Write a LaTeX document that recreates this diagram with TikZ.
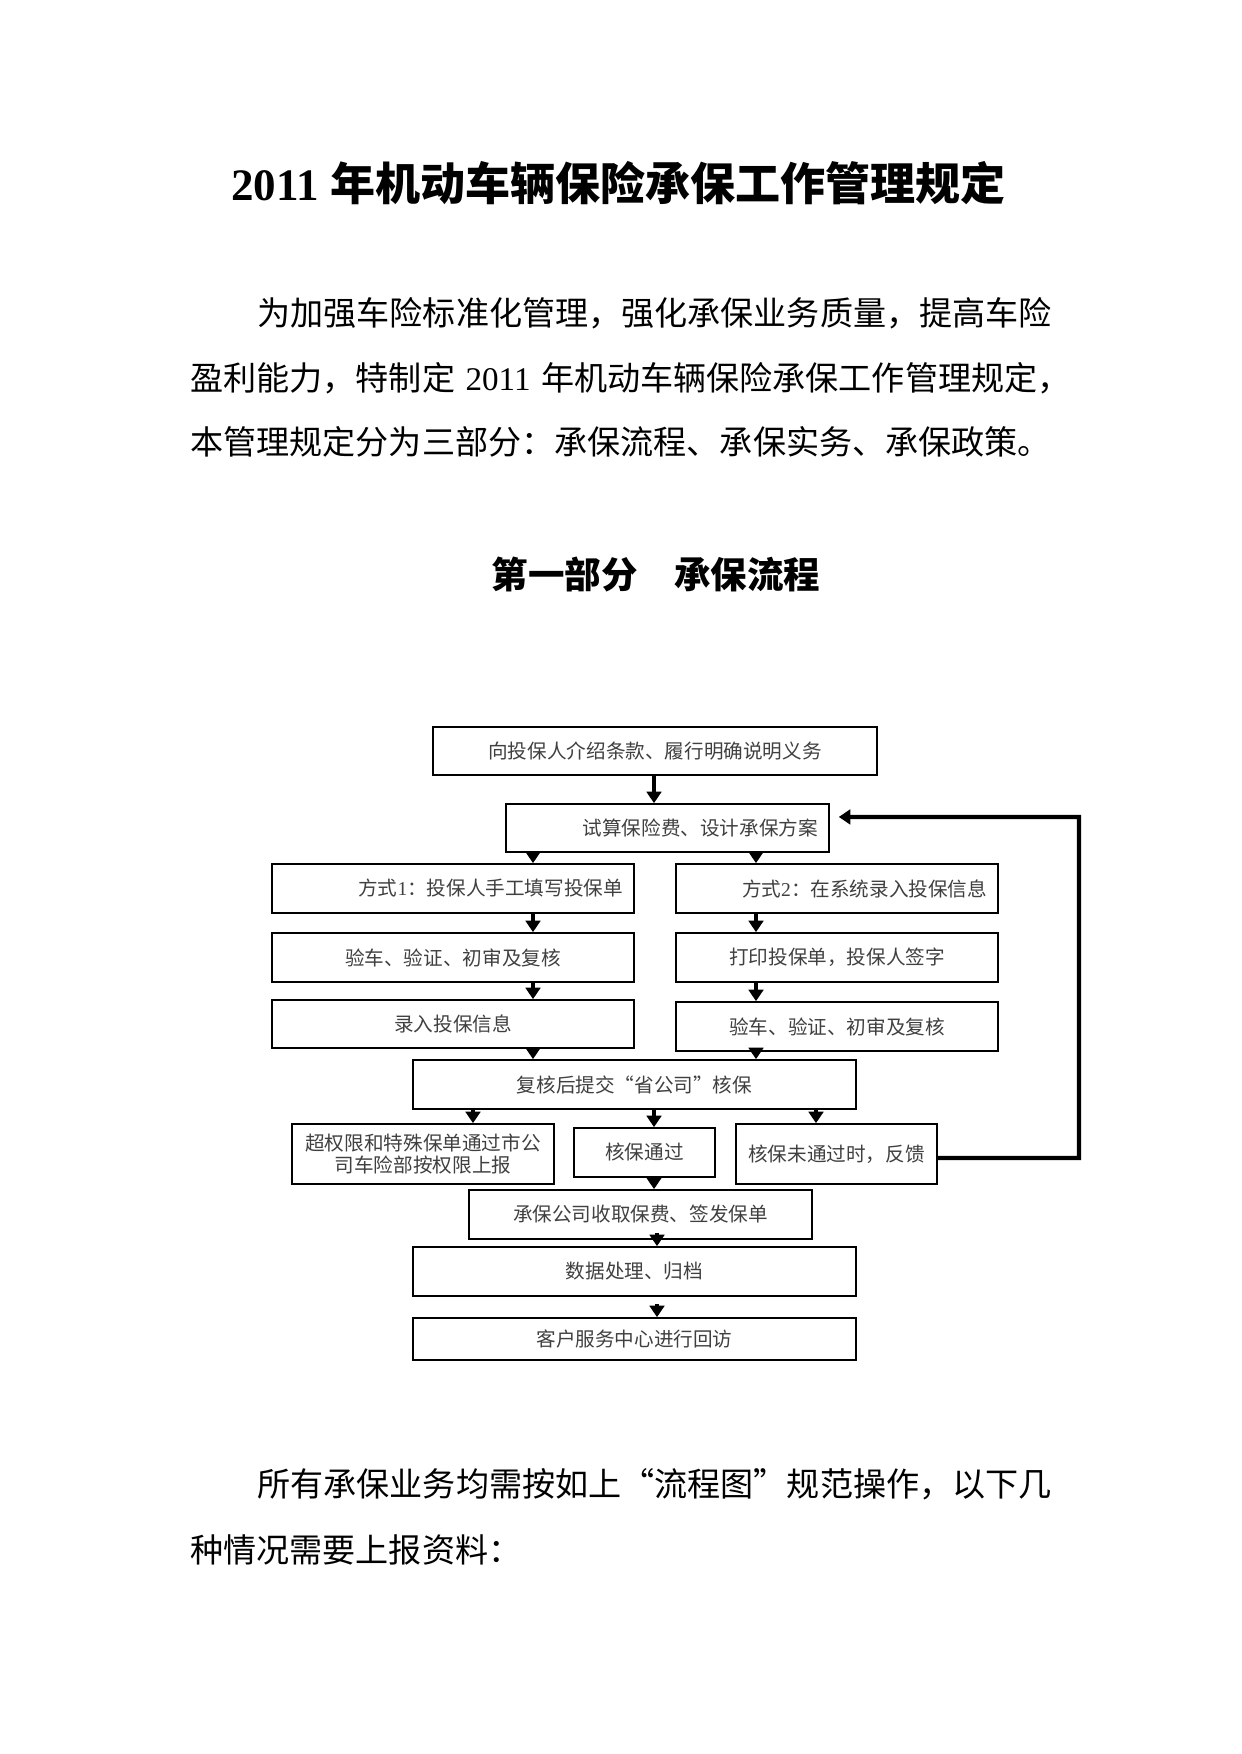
\documentclass[tikz,border=0pt]{standalone}
\usepackage{fontspec}
\setmainfont{Liberation Serif}
\newfontfamily\cjk{Noto Sans CJK SC}
\usetikzlibrary{arrows.meta,calc}
\newcommand\flowfont{\cjk\fontsize{9.4pt}{11pt}\selectfont}
\newcommand\bodyfont{\cjk\fontsize{15.87pt}{20pt}\selectfont}
\begin{document}
\begin{tikzpicture}[x=0.4795pt, y=-0.4795pt,
  box/.style 2 args={draw, line width=0.8pt, minimum width=#1*0.4795pt,
    minimum height=#2*0.4795pt, inner sep=0pt, font=\flowfont, text=black!75, align=center},
  rbox/.style={inner xsep=5.27pt, align=right},
  arr/.style={line width=2pt, -{Triangle[length=5.5pt,width=7pt]}},
  fb/.style={line width=2pt, line join=miter, -{Triangle[length=5.5pt,width=7pt]}},
  bodyline/.style={anchor=west, inner sep=0pt, font=\bodyfont}]
\fill[white] (0,0) rectangle (1241,1754);
\useasboundingbox (0,0) rectangle (1241,1754);

% title and text
\node[inner sep=0pt] (title) at (618.5,183)
  {\fontsize{21.6pt}{25pt}\selectfont\bfseries 2011 {\cjk 年机动车辆保险承保工作管理规定}};
\node[bodyline] (p1) at (257,313) {为加强车险标准化管理，强化承保业务质量，提高车险};
\node[bodyline] (p2) at (190,378) {盈利能力，特制定\hspace{5pt}{\rmfamily 2011}\hspace{5pt}年机动车辆保险承保工作管理规定，};
\node[bodyline] (p3) at (190,442) {本管理规定分为三部分：承保流程、承保实务、承保政策。};
\node[inner sep=0pt] (sec) at (656,575)
  {\fontsize{17.5pt}{20pt}\selectfont\cjk\bfseries 第一部分\quad 承保流程};
\node[bodyline] (q1) at (257,1484) {所有承保业务均需按如上\makebox[1em][r]{“}流程图\makebox[1em][l]{”}规范操作，以下几};
\node[bodyline] (q2) at (190,1550) {种情况需要上报资料：};

% flowchart boxes
\node[box={444}{48}] (b1) at (655,751) {向投保人介绍条款、履行明确说明义务};
\node[box={323}{48}, rbox, text width=144.3pt] (b2) at (667.5,828) {试算保险费、设计承保方案};
\node[box={362}{49}, rbox, text width=163.0pt] (b3L) at (453,888.5) {方式\textrm{1}：投保人手工填写投保单};
\node[box={322}{49}, rbox, text width=143.9pt] (b3R) at (837,888.5) {方式\textrm{2}：在系统录入投保信息};
\node[box={362}{49}] (b4L) at (453,957.5) {验车、验证、初审及复核};
\node[box={322}{49}] (b4R) at (837,957.5) {打印投保单，投保人签字};
\node[box={362}{48}] (b5L) at (453,1024) {录入投保信息};
\node[box={322}{49}] (b5R) at (837,1026.5) {验车、验证、初审及复核};
\node[box={443}{49}] (b6) at (634.5,1084.5) {复核后提交“省公司”核保};
\node[box={262}{60}] (b7L) at (423,1154) {超权限和特殊保单通过市公\\司车险部按权限上报};
\node[box={141}{49}] (b7M) at (644.5,1152.5) {核保通过};
\node[box={201}{60}] (b7R) at (836.5,1154) {核保未通过时，反馈};
\node[box={343}{49}] (b8) at (640.5,1214.5) {承保公司收取保费、签发保单};
\node[box={443}{49}] (b9) at (634.5,1271.5) {数据处理、归档};
\node[box={443}{42}] (b10) at (634.5,1339) {客户服务中心进行回访};

% arrow columns
\coordinate (xc) at (654,0);
\coordinate (xl) at (533,0);
\coordinate (xr) at (756,0);
\coordinate (x7l) at (473,0);
\coordinate (x7r) at (816,0);
\coordinate (xb) at (657,0);
\coordinate (fbtop) at (1079,817);

\draw[arr] (b1.south -| xc) -- (b2.north -| xc);
\draw[arr] (b2.south -| xl) -- (b3L.north -| xl);
\draw[arr] (b2.south -| xr) -- (b3R.north -| xr);
\draw[arr] (b3L.south -| xl) -- (b4L.north -| xl);
\draw[arr] (b4L.south -| xl) -- (b5L.north -| xl);
\draw[arr] (b5L.south -| xl) -- (b6.north -| xl);
\draw[arr] (b3R.south -| xr) -- (b4R.north -| xr);
\draw[arr] (b4R.south -| xr) -- (b5R.north -| xr);
\draw[arr] (b5R.south -| xr) -- (b6.north -| xr);
\draw[arr] (b6.south -| x7l) -- (b7L.north -| x7l);
\draw[arr] (b6.south -| xc) -- (b7M.north -| xc);
\draw[arr] (b6.south -| x7r) -- (b7R.north -| x7r);
\draw[arr] (b7M.south -| xc) -- (b8.north -| xc);
\draw[arr] ($(b8.south -| xb)+(0,-7)$) -- (b9.north -| xb);
\draw[arr] ($(b9.south -| xb)+(0,7)$) -- (b10.north -| xb);
\draw[fb, shorten >=4.3pt] ([yshift=-1.9pt]b7R.east) -| (fbtop) -- ([yshift=5.3pt]b2.east);
\end{tikzpicture}
\end{document}
